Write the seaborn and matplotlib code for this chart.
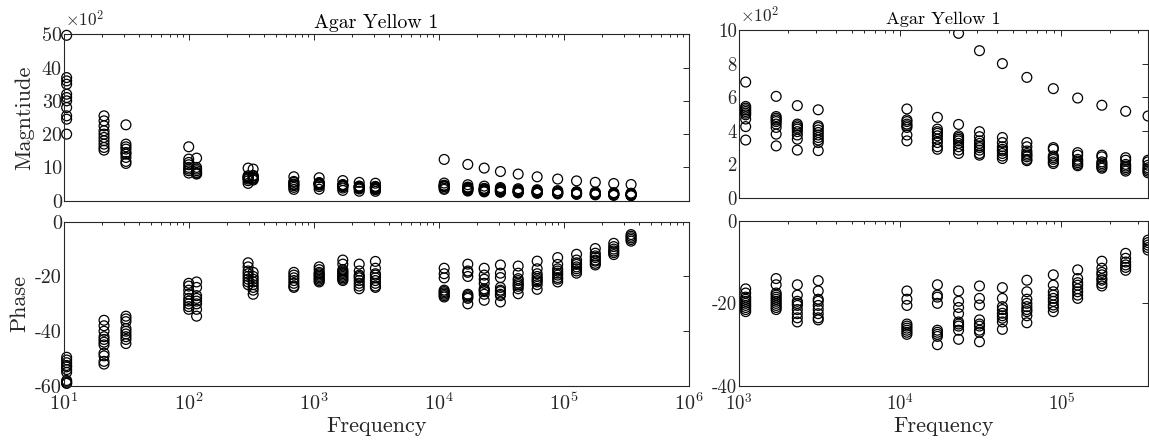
import numpy as np
import pandas as pd
import matplotlib
matplotlib.use("Agg")
import matplotlib.pyplot as plt
from matplotlib.ticker import FixedLocator, FuncFormatter, LogLocator, NullFormatter
import seaborn as sns

# Measurement frequencies (Hz)
freq_hz = [10.5, 20.9, 31.3, 99.5, 115, 297, 326, 690, 1100, 1700, 2300, 3100,
           11000, 17000, 23000, 31000, 43000, 61000, 89000, 126000, 178000,
           250000, 344000]

# Impedance magnitude, all repeats at each frequency
magnitude = [
    [4970, 3700, 3600, 3500, 3200, 3100, 3000, 2800, 2550, 2450, 2000],
    [2550, 2400, 2250, 2100, 2000, 1900, 1800, 1700, 1600, 1520],
    [2280, 1700, 1620, 1550, 1450, 1400, 1300, 1180, 1120],
    [1620, 1250, 1150, 1080, 1000, 950, 900, 830],
    [1280, 1000, 950, 900, 850, 820, 800],
    [980, 750, 720, 700, 680, 650, 600, 520],
    [950, 760, 740, 700, 680, 650, 620],
    [720, 580, 550, 500, 480, 450, 400, 340],
    [690, 545, 535, 525, 515, 505, 495, 470, 425, 345],
    [605, 485, 475, 465, 455, 440, 420, 380, 310],
    [550, 440, 430, 420, 410, 395, 375, 350, 285],
    [525, 430, 420, 405, 390, 375, 360, 345, 330, 282],
    [1240, 530, 465, 455, 440, 430, 420, 375, 340],
    [1090, 480, 410, 395, 385, 370, 350, 330, 305, 290],
    [980, 438, 370, 360, 350, 340, 325, 305, 285, 265],
    [877, 395, 365, 340, 325, 310, 300, 285, 265, 255],
    [800, 360, 330, 305, 290, 280, 265, 250, 235],
    [718, 330, 305, 280, 265, 255, 245, 230, 222],
    [651, 300, 290, 250, 240, 230, 215, 205],
    [595, 270, 255, 230, 220, 210, 200, 192],
    [552, 255, 245, 215, 205, 195, 185, 177],
    [516, 240, 225, 200, 190, 180, 170, 160],
    [488, 225, 215, 195, 180, 170, 160, 150],
]

# Phase angle (degrees), all repeats at each frequency
phase = [
    [-49.5, -50.5, -51.5, -52.5, -53, -54, -55, -58, -58.5, -59, -59],
    [-36, -38, -40, -42, -43, -44, -45, -48, -49, -51, -52],
    [-34.5, -35.5, -36.5, -39, -40, -41, -42, -43, -44.5],
    [-22.5, -23.5, -25, -26.5, -28, -29, -30, -31, -32],
    [-22, -24, -27, -28, -29, -30, -32, -34.5],
    [-15, -16.5, -18, -19, -20, -21, -22, -23],
    [-18.5, -20, -21, -22, -23, -24, -25, -26.5],
    [-18.5, -19.5, -20.5, -21.5, -22.5, -23.5, -24],
    [-16.5, -17.5, -18.5, -19, -19.5, -20, -20.5, -21, -21.5, -22],
    [-14, -15.5, -17.5, -18, -18.5, -19, -19.5, -20, -20.5, -21, -21.5],
    [-15.5, -18, -19.5, -20, -20.5, -21.5, -22.5, -23.5, -24.5],
    [-14.5, -17, -19, -19.5, -20.5, -21.5, -22.5, -23.5, -24],
    [-17, -19, -20.5, -25, -25.5, -26, -26.5, -27, -27.5],
    [-15.5, -18, -18.5, -20, -26.5, -27, -27.5, -28, -30],
    [-17, -19.5, -21, -22.5, -24.5, -25, -25.5, -26.5, -28.7],
    [-15.8, -18.8, -20.4, -24, -25, -25.5, -26.5, -27, -29.3],
    [-16.2, -18.8, -20.8, -21.5, -22.4, -23, -23.6, -24.5, -26.3],
    [-14.4, -17.2, -19, -20, -20.8, -21.5, -22, -23, -24.7],
    [-13.1, -15.6, -17.2, -18, -18.8, -19.5, -20.4, -21, -22],
    [-11.9, -14, -15, -15.6, -16.5, -17.2, -18, -18.8],
    [-9.8, -11.5, -12.5, -13.1, -14, -14.4, -15.2, -15.8],
    [-7.9, -9.1, -10, -10.7, -11.3, -12],
    [-4.7, -5.3, -5.9, -6.5, -7.1],
]

title_text = "Agar Yellow 1"

mag_df = pd.DataFrame([(f, m) for f, ms in zip(freq_hz, magnitude) for m in ms],
                      columns=["Frequency", "Magnitude"])
ph_df = pd.DataFrame([(f, p) for f, ps in zip(freq_hz, phase) for p in ps],
                     columns=["Frequency", "Phase"])

sns.set_style("white")
plt.rcParams.update({
    "font.family": ["cmr10", "DejaVu Serif"],
    "mathtext.fontset": "cm",
    "axes.unicode_minus": False,
    "axes.edgecolor": "#262626",
    "axes.linewidth": 0.8,
})

W, H = 1149, 443
fig = plt.figure(figsize=(W / 100, H / 100), dpi=100)


def box(x0, y_top, x1, y_bot):
    return [x0 / W, 1 - y_bot / H, (x1 - x0) / W, (y_bot - y_top) / H]


ax_mag = fig.add_axes(box(64, 34.3, 689, 200.7))
ax_ph = fig.add_axes(box(64, 221.7, 689, 386))
ax_mag_hi = fig.add_axes(box(739, 30, 1148, 198))
ax_ph_hi = fig.add_axes(box(739, 220.7, 1148, 386))

ink = "#262626"


def draw(ax, df, col, clip):
    sns.scatterplot(data=df, x="Frequency", y=col, ax=ax, marker="o", s=50,
                    edgecolor="black", linewidth=0.9, legend=False)
    coll = ax.collections[-1]
    coll.set_facecolor("none")
    coll.set_edgecolor("black")
    coll.set_clip_on(clip)
    ax.set_xlabel("")
    ax.set_ylabel("")


def style(ax, xlim, ylim, yticks, ylabel_scale, show_xlabels, fs):
    ax.set_xscale("log")
    ax.set_xlim(*xlim)
    ax.set_ylim(*ylim)
    ax.xaxis.set_major_locator(LogLocator(base=10, numticks=12))
    ax.xaxis.set_minor_locator(LogLocator(base=10, subs=np.arange(2, 10), numticks=12))
    ax.xaxis.set_minor_formatter(NullFormatter())
    if show_xlabels:
        ax.xaxis.set_major_formatter(
            FuncFormatter(lambda v, p: r"$10^{%d}$" % int(round(np.log10(v)))))
    else:
        ax.xaxis.set_major_formatter(NullFormatter())
    ax.yaxis.set_major_locator(FixedLocator(yticks))
    ax.yaxis.set_major_formatter(FuncFormatter(lambda v, p: f"{v / ylabel_scale:g}"))
    ax.tick_params(which="both", direction="in", top=True, right=True,
                   color=ink, labelcolor=ink, labelsize=fs, width=0.7)
    ax.tick_params(axis="y", pad=1.5)
    ax.tick_params(axis="x", pad=5)
    ax.tick_params(which="major", length=4.5)
    ax.tick_params(which="minor", length=2.5)
    for s in ax.spines.values():
        s.set_visible(True)
        s.set_color(ink)
        s.set_linewidth(0.8)


draw(ax_mag, mag_df, "Magnitude", False)
draw(ax_ph, ph_df, "Phase", False)
draw(ax_mag_hi, mag_df[mag_df["Frequency"] >= 1000], "Magnitude", True)
draw(ax_ph_hi, ph_df[ph_df["Frequency"] >= 1000], "Phase", False)

f_max = max(freq_hz)
style(ax_mag, (10, 1e6), (0, 5000), [0, 1000, 2000, 3000, 4000, 5000], 100, False, 14.5)
style(ax_ph, (10, 1e6), (-60, 0), [-60, -40, -20, 0], 1, True, 14.5)
style(ax_mag_hi, (1e3, f_max), (0, 1000), [0, 200, 400, 600, 800, 1000], 100, False, 13.5)
style(ax_ph_hi, (1e3, f_max), (-40, 0), [-40, -20, 0], 1, True, 13.5)

for ax, tfs in ((ax_mag, 14.3), (ax_mag_hi, 13.2)):
    ax.set_title(title_text, fontsize=tfs, pad=4.5, color="black")
    ax.text(0.002, 1.03, r"$\times10^{2}$", transform=ax.transAxes,
            ha="left", va="bottom", fontsize=12.5, color=ink)

ax_mag.set_ylabel("Magntiude", fontsize=16, color=ink)
ax_mag.yaxis.set_label_coords(-0.047, 0.5)
ax_ph.set_ylabel("Phase", fontsize=16, color=ink)
ax_ph.yaxis.set_label_coords(-0.055, 0.5)

for ax in (ax_ph, ax_ph_hi):
    ax.set_xlabel("Frequency", fontsize=16, color=ink)
    ax.xaxis.set_label_coords(0.5, -0.185)

fig.savefig("out.png", dpi=100)
